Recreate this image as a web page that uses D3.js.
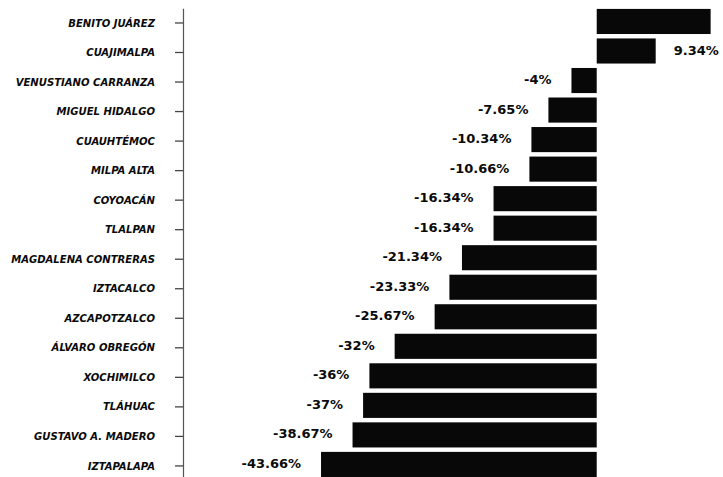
<!DOCTYPE html>
<html>
<head>
<meta charset="utf-8">
<script src="https://cdn.jsdelivr.net/npm/d3@7"></script>
<style>
  body { margin: 0; background: #fff; }
  .cat text { font-family: 'DejaVu Sans Condensed', 'DejaVu Sans', sans-serif; font-stretch: condensed; font-weight: bold; font-style: italic; font-size: 11.2px; fill: #0a0a0a; }
  .val { font-family: 'DejaVu Sans', sans-serif; font-weight: bold; font-size: 13px; fill: #0a0a0a; }
</style>
</head>
<body>
<div id="chart"></div>
<script>
// alcaldías, top to bottom
const alcaldias = [ 'BENITO JUÁREZ', 'CUAJIMALPA', 'VENUSTIANO CARRANZA', 'MIGUEL HIDALGO', 'CUAUHTÉMOC',
  'MILPA ALTA', 'COYOACÁN', 'TLALPAN', 'MAGDALENA CONTRERAS', 'IZTACALCO', 'AZCAPOTZALCO',
  'ÁLVARO OBREGÓN', 'XOCHIMILCO', 'TLÁHUAC', 'GUSTAVO A. MADERO', 'IZTAPALAPA' ];
// percent change
const cambio = [ 18.04, 9.34, -4, -7.65, -10.34, -10.66, -16.34, -16.34, -21.34, -23.33, -25.67,
  -32, -36, -37, -38.67, -43.66 ];

const width = 723, height = 477;

const data = alcaldias.map( function( d, i ) { return { name: d, value: cambio[i] }; } );

const svg = d3.select( '#chart' )
  .append( 'svg' )
    .attr( 'width', width )
    .attr( 'height', height );

// x scale: 0 sits at about 597px
const x = d3.scaleLinear()
  .domain( [ -50, 20 ] )
  .range( [ 281, 723 ] );

const y = d3.scaleBand()
  .domain( alcaldias )
  .range( [ 6.7, 479.2 ] )
  .paddingInner( 0.15 )
  .paddingOuter( 0.075 );

// category axis at the left
const axisX = 183;
svg.append( 'g' )
  .attr( 'class', 'cat' )
  .attr( 'transform', 'translate(' + axisX + ',1.5)' )
  .call( d3.axisLeft( y ).tickSize( 8 ).tickSizeOuter( 0 ).tickPadding( 20 ) )
  .call( function( g ) {
    g.select( '.domain' ).attr( 'stroke', '#555' ).attr( 'stroke-width', 1.2 );
    g.selectAll( '.tick line' ).attr( 'stroke', '#444' ).attr( 'stroke-width', 1.3 );
    g.selectAll( 'text' ).attr( 'font-family', null ).attr( 'font-size', null );
  } );

// bars
svg.append( 'g' )
  .selectAll( 'rect' )
  .data( data )
  .enter()
  .append( 'rect' )
    .attr( 'x', function( d ) { return x( Math.min( 0, d.value ) ); } )
    .attr( 'y', function( d ) { return y( d.name ); } )
    .attr( 'width', function( d ) { return Math.abs( x( d.value ) - x( 0 ) ); } )
    .attr( 'height', y.bandwidth() )
    .attr( 'fill', '#080808' );

// value labels (the one past the right edge is not visible in the original)
svg.append( 'g' )
  .selectAll( 'text' )
  .data( data.filter( function( d ) { return x( d.value ) + 18 < width - 40; } ) )
  .enter()
  .append( 'text' )
    .attr( 'class', 'val' )
    .attr( 'x', function( d ) { return d.value < 0 ? x( d.value ) - 20 : x( d.value ) + 18; } )
    .attr( 'y', function( d ) { return y( d.name ) + y.bandwidth() / 2 - 1; } )
    .attr( 'dy', '0.35em' )
    .attr( 'text-anchor', function( d ) { return d.value < 0 ? 'end' : 'start'; } )
    .text( function( d ) { return d.value + '%'; } );
</script>
</body>
</html>
